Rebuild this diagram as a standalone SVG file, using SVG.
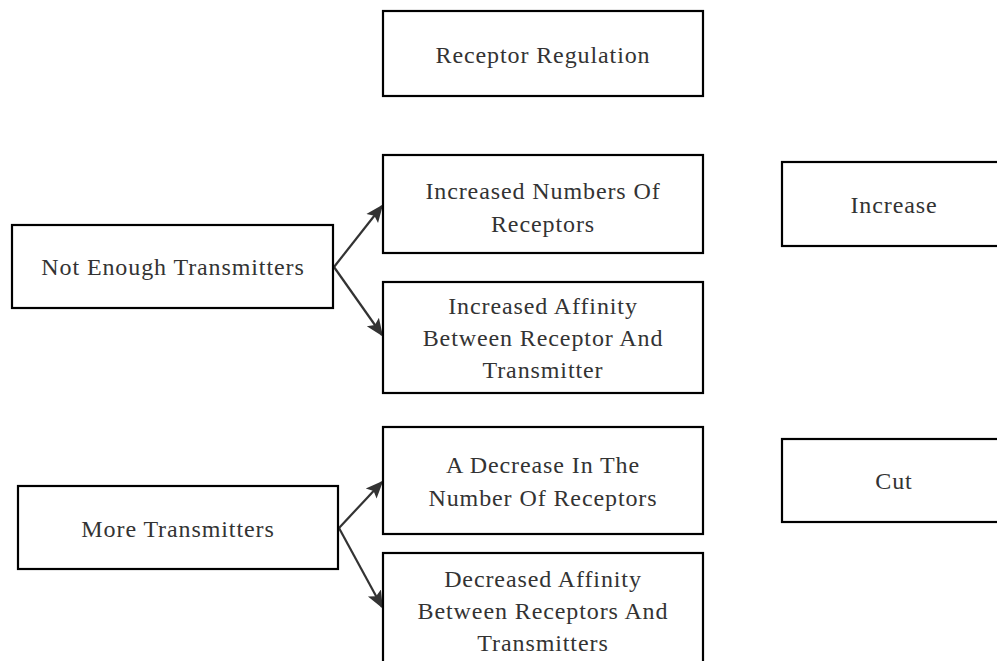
<svg xmlns="http://www.w3.org/2000/svg" width="997" height="661" viewBox="0 0 997 661">
<defs>
<style>
.box{fill:#fff;stroke:#000;stroke-width:2.2}
.t{font-family:'Liberation Serif','Times New Roman',serif;font-size:24px;letter-spacing:0.9px;fill:#333;text-anchor:middle}
.c{stroke:#333;stroke-width:2.2;fill:none;marker-end:url(#ah)}
</style>
<marker id="ah" viewBox="0 0 10 10" refX="9" refY="5" markerWidth="8" markerHeight="8" orient="auto" markerUnits="strokeWidth">
<path d="M0,0.8 L10,5 L0,9.2 L2,5 Z" fill="#333"/>
</marker>
</defs>
<rect width="997" height="661" fill="#fff"/>
<g id="connectors">
<line class="c" x1="334" y1="267" x2="382" y2="206"/>
<line class="c" x1="334" y1="267" x2="382" y2="335"/>
<line class="c" x1="339" y1="528" x2="382" y2="482"/>
<line class="c" x1="339" y1="528" x2="382" y2="607"/>
</g>
<g id="receptor-regulation">
<rect class="box" x="383" y="11" width="320" height="85"/>
<text class="t" x="543" y="63">Receptor Regulation</text>
</g>
<g id="not-enough">
<rect class="box" x="12" y="225" width="321" height="83"/>
<text class="t" x="173" y="275">Not Enough Transmitters</text>
</g>
<g id="increased-numbers">
<rect class="box" x="383" y="155" width="320" height="98"/>
<text class="t" x="543" y="199">Increased Numbers Of</text>
<text class="t" x="543" y="232">Receptors</text>
</g>
<g id="increased-affinity">
<rect class="box" x="383" y="282" width="320" height="111"/>
<text class="t" x="543" y="314">Increased Affinity</text>
<text class="t" x="543" y="346">Between Receptor And</text>
<text class="t" x="543" y="378">Transmitter</text>
</g>
<g id="increase">
<rect class="box" x="782" y="162" width="223" height="84"/>
<text class="t" x="894" y="213">Increase</text>
</g>
<g id="more-transmitters">
<rect class="box" x="18" y="486" width="320" height="83"/>
<text class="t" x="178" y="537">More Transmitters</text>
</g>
<g id="decrease-number">
<rect class="box" x="383" y="427" width="320" height="107"/>
<text class="t" x="543" y="473">A Decrease In The</text>
<text class="t" x="543" y="506">Number Of Receptors</text>
</g>
<g id="decreased-affinity">
<rect class="box" x="383" y="553" width="320" height="120"/>
<text class="t" x="543" y="587">Decreased Affinity</text>
<text class="t" x="543" y="619">Between Receptors And</text>
<text class="t" x="543" y="651">Transmitters</text>
</g>
<g id="cut">
<rect class="box" x="782" y="439" width="223" height="83"/>
<text class="t" x="894" y="489">Cut</text>
</g>
</svg>
